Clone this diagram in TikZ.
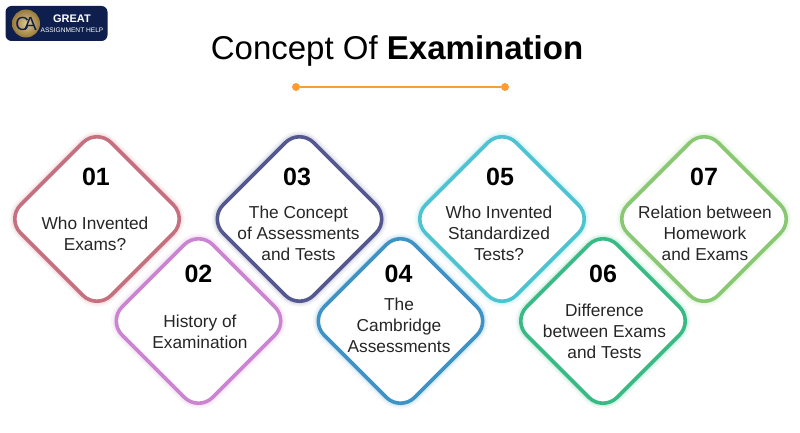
\documentclass[tikz,border=0pt]{standalone}
\usepackage{fontspec}
\setmainfont{Liberation Sans}
\usetikzlibrary{shapes.geometric}
\definecolor{cardrose}{HTML}{C6707F}
\definecolor{cardorchid}{HTML}{CB85D0}
\definecolor{cardindigo}{HTML}{55578F}
\definecolor{cardblue}{HTML}{3F92C4}
\definecolor{cardcyan}{HTML}{4CC3D0}
\definecolor{cardgreen}{HTML}{38BA84}
\definecolor{cardlime}{HTML}{88C872}
\definecolor{rulegold}{HTML}{F99D36}
\definecolor{logonavy}{HTML}{0E1F4D}
\definecolor{logogold}{HTML}{C9A24A}
\tikzset{
  examcard/.style={shape=diamond, aspect=1, inner sep=0pt, outer sep=0pt,
    minimum width=181pt, minimum height=181pt, rounded corners=20pt,
    line width=3.6pt, draw=#1, fill=white,
    preaction={draw=#1, line width=11pt, opacity=.07},
    preaction={draw=#1, line width=7pt, opacity=.12}},
  cardnum/.style={font=\fontsize{25}{25}\selectfont\bfseries, text=black},
  cardtext/.style={font=\fontsize{17.3}{21.2}\selectfont, align=center, text=black!85, inner sep=0pt},
  ruledot/.style={circle, fill=rulegold, inner sep=0pt, minimum size=8pt}
}
\begin{document}
\begin{tikzpicture}[x=1pt,y=-1pt]
  \useasboundingbox (0,0) rectangle (800,433);

  % logo
  \node[fill=logonavy, rounded corners=6pt, minimum width=102pt, minimum height=35pt] (badge) at (56.5,23.5) {};
  \node[circle, inner color=logogold!60!white, outer color=logogold!75!black, minimum size=28pt, inner sep=0pt, font=\fontsize{19}{19}\selectfont, text=logonavy] (seal) at (26,23.5) {C\kern-5pt A};
  \node[font=\fontsize{11}{11}\selectfont\bfseries, text=white] (brand) at (72,18.5) {GREAT};
  \node[font=\fontsize{6.6}{7}\selectfont, text=white] (brandsub) at (72,30.5) {ASSIGNMENT HELP};

  % title
  \node[font=\fontsize{33}{33}\selectfont, text=black] (title) at (397,51) {Concept Of \textbf{Examination}};
  \node[ruledot] (ruleL) at (296,87) {};
  \node[ruledot] (ruleR) at (505,87) {};
  \draw[rulegold, line width=2pt] (ruleL) -- (ruleR);

  % cards
  \node[examcard=cardrose] (card1) at (97,219) {};
  \node[examcard=cardorchid] (card2) at (198.5,321) {};
  \node[examcard=cardindigo] (card3) at (299.5,219) {};
  \node[examcard=cardblue] (card4) at (400.5,321) {};
  \node[examcard=cardcyan] (card5) at (502,219) {};
  \node[examcard=cardgreen] (card6) at (603,321) {};
  \node[examcard=cardlime] (card7) at (704,219) {};

  % numbers
  \node[cardnum] (num1) at (96,176.5) {01};
  \node[cardnum] (num2) at (198.5,273.5) {02};
  \node[cardnum] (num3) at (297,176.5) {03};
  \node[cardnum] (num4) at (398.5,273.5) {04};
  \node[cardnum] (num5) at (500,176.5) {05};
  \node[cardnum] (num6) at (603,273.5) {06};
  \node[cardnum] (num7) at (704,176.5) {07};

  % labels
  \node[cardtext] (text1) at (95,233.5) {Who Invented\\Exams?};
  \node[cardtext] (text2) at (200,331.5) {History of\\Examination};
  \node[cardtext] (text3) at (298.5,233.5) {The Concept\\of Assessments\\and Tests};
  \node[cardtext] (text4) at (399,325.5) {The\\Cambridge\\Assessments};
  \node[cardtext] (text5) at (499,233.5) {Who Invented\\Standardized\\Tests?};
  \node[cardtext] (text6) at (604.5,331.5) {Difference\\between Exams\\and Tests};
  \node[cardtext] (text7) at (705,233.5) {Relation between\\Homework\\and Exams};
\end{tikzpicture}
\end{document}
